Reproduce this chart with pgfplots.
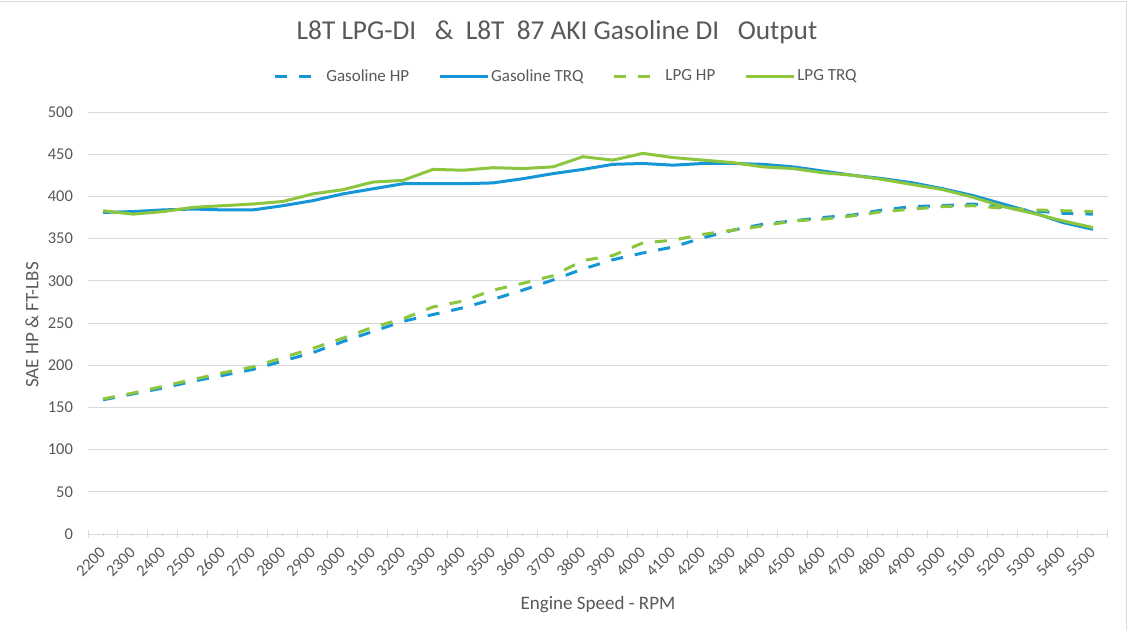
\documentclass[border=0pt]{standalone}
\usepackage{fontspec}
\setmainfont{Carlito}
\usepackage{pgfplots}
\pgfplotsset{compat=1.18}
\usepackage{pgfplotstable}
\definecolor{gasblue}{RGB}{20,150,215}
\definecolor{lpggreen}{RGB}{140,198,63}
\definecolor{gridgray}{RGB}{217,217,217}
\definecolor{txtgray}{RGB}{89,89,89}
\pgfplotstableread{
rpm gashp gastrq lpghp lpgtrq
2200 159 381 160 383
2300 166 382 167 379
2400 173 384 175 382
2500 181 385 183 387
2600 188 384 191 389
2700 195 384 198 391
2800 205 389 209 394
2900 215 395 220 403
3000 228 403 232 408
3100 240 409 245 417
3200 252 415 255 419
3300 260 415 269 432
3400 268 415 276 431
3500 278 416 289 434
3600 289 421 297 433
3700 301 427 306 435
3800 314 432 324 447
3900 325 438 330 443
4000 333 439 345 451
4100 340 437 348 446
4200 351 439 355 443
4300 360 439 360 440
4400 367 438 365 435
4500 371 435 371 433
4600 375 430 373 428
4700 378 425 377 425
4800 384 421 382 420
4900 388 416 385 414
5000 389 409 388 408
5100 391 401 389 399
5200 387 391 386 388
5300 383 381 384 380
5400 380 369 383 371
5500 379 361 382 363
}\datatable
\begin{document}
\begin{tikzpicture}
\path[use as bounding box] (0,0) rectangle (1130pt,630pt);
\fill[white] (0,0) rectangle (1130pt,630pt);
\draw[gridgray, line width=1pt] (0,628pt) -- (1126pt,628pt) -- (1126pt,0);
\node[anchor=base, font=\fontsize{27.3}{31}\selectfont, text=txtgray] at (557pt,590pt)
  {L8T LPG-DI\ \ \ \&\ \ L8T\ \ 87 AKI Gasoline DI\ \ \ Output};
\node[anchor=base, font=\fontsize{19}{22}\selectfont, text=txtgray] at (598pt,21pt) {Engine Speed - RPM};
\node[rotate=90, font=\fontsize{19}{22}\selectfont, text=txtgray] at (32pt,305pt) {SAE HP \& FT-LBS};
\begin{axis}[
  at={(88pt,96pt)}, anchor=south west,
  scale only axis, width=1020pt, height=422pt,
  xmin=2150, xmax=5550, ymin=0, ymax=500,
  xtick={2200,2300,...,5500},
  ytick={0,50,...,500},
  extra x ticks={2150,2250,...,5550},
  extra x tick labels={},
  extra x tick style={major tick length=8pt, grid=none},
  major tick length=3pt,
  tick align=center,
  axis x line*=bottom, axis y line*=left,
  x axis line style={gridgray, line width=1pt},
  y axis line style={draw=none},
  ytick style={draw=none},
  xtick style={gridgray, line width=1pt},
  ymajorgrids, grid style={gridgray, line width=1pt},
  /pgf/number format/assume math mode=true,
  /pgf/number format/1000 sep={},
  tick label style={font=\fontsize{16.5}{18}\selectfont, text=txtgray},
  xticklabel style={yshift=-12pt, xshift=2pt, rotate=45, anchor=east},
  yticklabel style={xshift=-10pt},
  legend columns=4,
  legend style={draw=none, fill=none, at={(0.4686,1.0853)}, anchor=center,
    font=\fontsize{17}{19}\selectfont, text=txtgray,
    /tikz/every even column/.append style={column sep=27pt}},
  legend image code/.code={\draw[#1] (0pt,0pt) -- (48pt,0pt);},
]
\addplot[gasblue, line width=3pt, dash pattern=on 12pt off 12pt] table[x=rpm,y=gashp]{\datatable};
\addlegendentry{Gasoline HP}
\addplot[gasblue, line width=3pt] table[x=rpm,y=gastrq]{\datatable};
\addlegendentry{Gasoline TRQ}
\addplot[lpggreen, line width=3pt, dash pattern=on 12pt off 12pt] table[x=rpm,y=lpghp]{\datatable};
\addlegendentry{LPG HP}
\addplot[lpggreen, line width=3pt] table[x=rpm,y=lpgtrq]{\datatable};
\addlegendentry{LPG TRQ}
\end{axis}
\end{tikzpicture}
\end{document}
